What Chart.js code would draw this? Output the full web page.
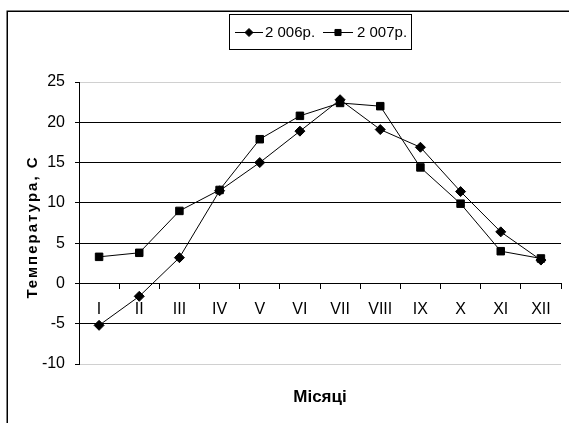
<!DOCTYPE html>
<html>
<head>
<meta charset="utf-8">
<script src="https://cdn.jsdelivr.net/npm/chart.js@4/dist/chart.umd.min.js"></script>
<style>
  html, body { margin: 0; padding: 0; background: #fff; }
  canvas { display: block; }
</style>
</head>
<body>
<canvas id="tempChart" width="569" height="423"></canvas>
<script>
var months = ["I", "II", "III", "IV", "V", "VI", "VII", "VIII", "IX", "X", "XI", "XII"];
var temp2006 = [-5.2, -1.6, 3.2, 11.5, 15.0, 18.9, 22.8, 19.1, 16.9, 11.4, 6.4, 2.9];
var temp2007 = [3.3, 3.8, 9.0, 11.6, 17.9, 20.8, 22.4, 22.0, 14.4, 9.9, 4.0, 3.1];
var seriesNames = ["2 006р.", "2 007р."];
var yTitle = "Температура, С";
var xTitle = "Місяці";

var fontNarrow = "'Liberation Sans Narrow', 'Liberation Sans', Arial, sans-serif";
var fontWide = "'Liberation Sans', Arial, sans-serif";

// frame, legend box and axis titles
var decorPlugin = {
  id: "decor",
  beforeDraw: function (chart) {
    var ctx = chart.ctx;
    ctx.save();
    ctx.strokeStyle = "#000";
    ctx.lineWidth = 1.5;
    ctx.strokeRect(7.25, 11.25, 600, 500);
    ctx.restore();
  },
  afterDraw: function (chart) {
    var ctx = chart.ctx;
    var area = chart.chartArea;
    ctx.save();

    // legend
    ctx.strokeStyle = "#000";
    ctx.lineWidth = 1;
    ctx.strokeRect(229.5, 14.5, 182, 35);
    var items = [
      { x0: 235, x1: 263, tx: 265 },
      { x0: 323, x1: 353, tx: 357 },
    ];
    var ly = 32;
    chart.data.datasets.forEach(function (ds, i) {
      var it = items[i];
      ctx.strokeStyle = ds.borderColor;
      ctx.lineWidth = 1;
      ctx.beginPath();
      ctx.moveTo(it.x0, ly + 0.5);
      ctx.lineTo(it.x1, ly + 0.5);
      ctx.stroke();
      ctx.fillStyle = ds.pointBackgroundColor;
      ctx.strokeStyle = ds.pointBorderColor;
      Chart.helpers.drawPoint(ctx, { pointStyle: ds.pointStyle, radius: ds.pointRadius - 1, borderWidth: 1, rotation: 0 }, (it.x0 + it.x1) / 2, ly + 0.5);
      ctx.fillStyle = "#000";
      ctx.font = "15px " + fontWide;
      ctx.textAlign = "left";
      ctx.textBaseline = "middle";
      ctx.fillText(ds.label, it.tx, ly + 1);
    });

    // y title
    ctx.fillStyle = "#000";
    ctx.save();
    ctx.translate(33, (area.top + area.bottom) / 2 + 4);
    ctx.rotate(-Math.PI / 2);
    ctx.font = "bold 15px " + fontWide;
    ctx.letterSpacing = "2px";
    ctx.textAlign = "center";
    ctx.textBaseline = "middle";
    ctx.fillText(yTitle, 0, 0);
    ctx.restore();

    // x title
    ctx.font = "bold 17px " + fontNarrow;
    ctx.textAlign = "center";
    ctx.textBaseline = "middle";
    ctx.fillText(xTitle, (area.left + area.right) / 2, 397);
    ctx.restore();
  },
};

var ctx = document.getElementById("tempChart").getContext("2d");
var tempChart = new Chart(ctx, {
  type: "line",
  data: {
    labels: months,
    datasets: [
      {
        label: seriesNames[0],
        data: temp2006,
        fill: false,
        borderColor: "#000",
        borderWidth: 1,
        lineTension: 0,
        pointStyle: "rectRot",
        pointRadius: 5,
        pointBackgroundColor: "#000",
        pointBorderColor: "#000",
        pointBorderWidth: 1,
      },
      {
        label: seriesNames[1],
        data: temp2007,
        fill: false,
        borderColor: "#000",
        borderWidth: 1,
        lineTension: 0,
        pointStyle: "rect",
        pointRadius: 5.3,
        pointBackgroundColor: "#000",
        pointBorderColor: "#000",
        pointBorderWidth: 1,
      },
    ],
  },
  options: {
    responsive: false,
    animation: false,
    devicePixelRatio: 1,
    layout: {
      padding: { left: 0, right: 8, top: 82, bottom: 59 },
    },
    plugins: {
      legend: { display: false },
      tooltip: { enabled: false },
    },
    scales: {
      x: {
        type: "category",
        position: { y: 0 },
        offset: true,
        afterFit: function (scale) {
          scale.height = 0;
        },
        grid: {
          offset: true,
          drawOnChartArea: false,
          drawTicks: true,
          tickLength: 5,
          color: "#000",
        },
        border: { display: true, color: "#000", width: 1 },
        ticks: {
          autoSkip: false,
          maxRotation: 0,
          padding: 12,
          color: "#000",
          font: { family: fontNarrow, size: 16 },
        },
      },
      y: {
        min: -10,
        max: 25,
        afterFit: function (scale) {
          scale.width = 79;
        },
        grid: {
          color: function (c) {
            if (c.tick && (c.tick.value === 25 || c.tick.value === -10)) {
              return "#d0d0d0";
            }
            return "#000";
          },
          tickColor: "#000",
          tickLength: 4,
        },
        border: { display: true, color: "#000", width: 1 },
        ticks: {
          stepSize: 5,
          padding: 10,
          color: "#000",
          font: { family: fontNarrow, size: 16 },
        },
      },
    },
  },
  plugins: [decorPlugin],
});
</script>
</body>
</html>
